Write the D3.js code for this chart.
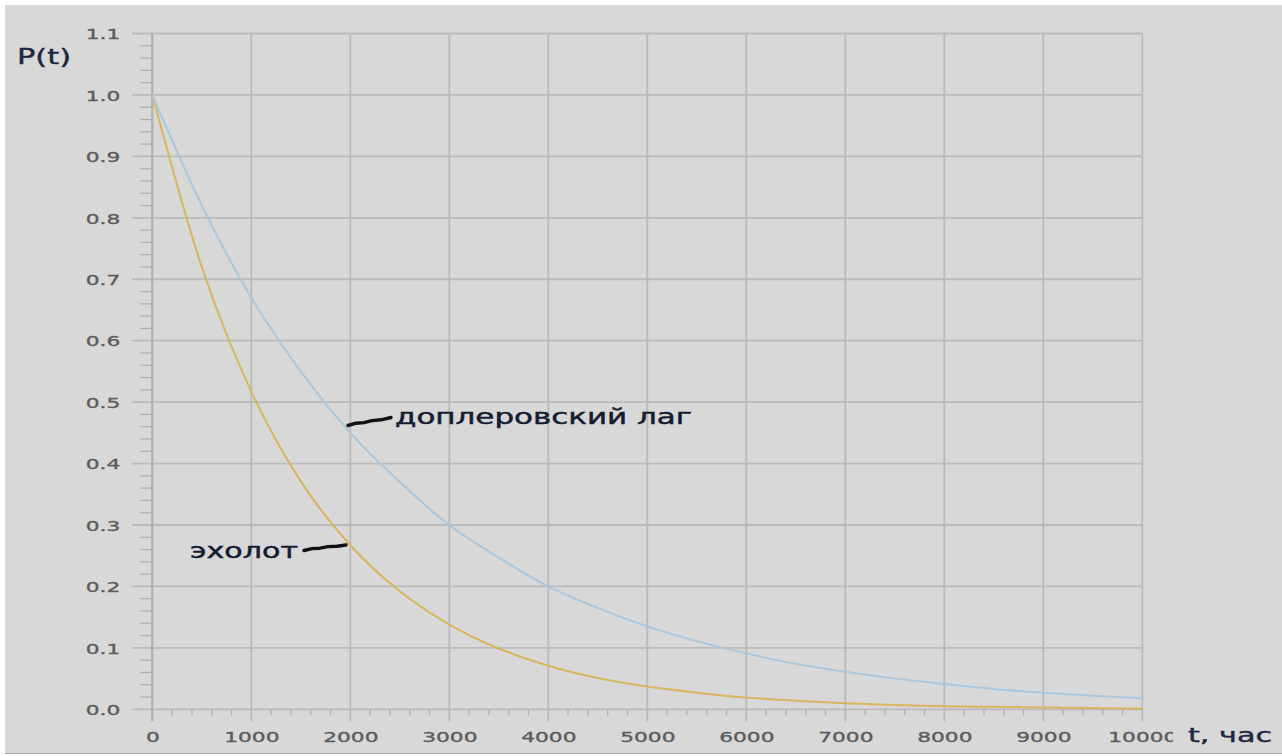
<!DOCTYPE html>
<html>
<head>
<meta charset="utf-8">
<script src="https://cdn.jsdelivr.net/npm/d3@7"></script>
<style>
  html, body { margin: 0; padding: 0; background: #ffffff; }
  svg { display: block; }
  text { font-family: "DejaVu Sans", Verdana, sans-serif; }
</style>
</head>
<body>
<svg id="chart" width="1282" height="756"></svg>
<script>
// Reliability P(t) over operating time, hours
const hours = [0, 500, 1000, 1500, 2000, 2500, 3000, 3500, 4000, 4500, 5000,
               5500, 6000, 6500, 7000, 7500, 8000, 8500, 9000, 9500, 10000];
const dopplerLog = [1.0, 0.82, 0.67, 0.55, 0.45, 0.37, 0.30, 0.247, 0.20, 0.165, 0.135,
                    0.111, 0.091, 0.074, 0.061, 0.050, 0.041, 0.033, 0.027, 0.022, 0.018];
const echoSounder = [1.0, 0.72, 0.517, 0.371, 0.267, 0.192, 0.138, 0.099, 0.071, 0.051, 0.037,
                     0.027, 0.019, 0.014, 0.010, 0.007, 0.005, 0.004, 0.003, 0.002, 0.001];
const xTicks = [0, 1000, 2000, 3000, 4000, 5000, 6000, 7000, 8000, 9000, 10000];
const yTicks = [0.0, 0.1, 0.2, 0.3, 0.4, 0.5, 0.6, 0.7, 0.8, 0.9, 1.0, 1.1];
const seriesNames = ["доплеровский лаг", "эхолот"];
const yTitle = "P(t)";
const xTitle = "t, час";

const svg = d3.select("#chart");
const W = 1282, H = 756;

// panel background
svg.append("rect").attr("x", 5).attr("y", 5).attr("width", W - 5).attr("height", 748)
  .attr("fill", "#d8d8d8");
svg.append("line").attr("x1", 5).attr("x2", W).attr("y1", 753.5).attr("y2", 753.5)
  .attr("stroke", "#a9a9a9").attr("stroke-width", 1.2);

const x = d3.scaleLinear().domain([0, 10000]).range([152.3, 1142.3]);
const y = d3.scaleLinear().domain([0, 1.1]).range([709.3, 33.5]);

const gridColor = "#bababa";
const sx = 1.5; // wide tick lettering

// horizontal grid + major y ticks (extend left of the axis)
svg.append("g").selectAll("line").data(yTicks).join("line")
  .attr("x1", 132).attr("x2", x(10000))
  .attr("y1", d => y(d)).attr("y2", d => y(d))
  .attr("stroke", gridColor).attr("stroke-width", 1.8);

// vertical grid
svg.append("g").selectAll("line").data(xTicks.slice(1)).join("line")
  .attr("x1", d => x(d)).attr("x2", d => x(d))
  .attr("y1", y(1.1)).attr("y2", y(0) + 12)
  .attr("stroke", gridColor).attr("stroke-width", 1.8);

// y axis line
svg.append("line").attr("x1", x(0)).attr("x2", x(0)).attr("y1", y(1.1)).attr("y2", y(0) + 12)
  .attr("stroke", "#b0b0b0").attr("stroke-width", 2.2);

// minor ticks
const yMinor = d3.range(0, 1.1001, 0.02).filter(v => Math.abs(v * 10 - Math.round(v * 10)) > 1e-6);
svg.append("g").selectAll("line").data(yMinor).join("line")
  .attr("x1", x(0) - 12).attr("x2", x(0))
  .attr("y1", d => y(d)).attr("y2", d => y(d))
  .attr("stroke", "#b0b0b0").attr("stroke-width", 1.3);
const xMinor = d3.range(0, 10001, 200).filter(v => v % 1000 !== 0);
svg.append("g").selectAll("line").data(xMinor).join("line")
  .attr("x1", d => x(d)).attr("x2", d => x(d))
  .attr("y1", y(0)).attr("y2", y(0) + 6)
  .attr("stroke", "#b0b0b0").attr("stroke-width", 1.3);

// tick labels via d3 axes, restyled
function styleTickText(sel) {
  sel.attr("transform", `scale(${sx},1)`)
    .attr("font-size", 14.5).attr("fill", "#5c5c5c")
    .attr("stroke", "#5c5c5c").attr("stroke-width", 0.35)
    .attr("font-family", "DejaVu Sans, Verdana, sans-serif");
}
const yAxis = svg.append("g").attr("transform", `translate(${x(0)},0)`)
  .call(d3.axisLeft(y).tickValues(yTicks).tickFormat(d3.format(".1f")).tickSize(0));
yAxis.select(".domain").remove();
yAxis.selectAll("text").attr("x", -32 / sx).attr("dy", "0.36em").call(styleTickText);

svg.append("clipPath").attr("id", "xlab-clip")
  .append("rect").attr("x", 0).attr("y", 0).attr("width", 1173).attr("height", H);
const xAxis = svg.append("g").attr("transform", `translate(0,${y(0)})`)
  .attr("clip-path", "url(#xlab-clip)")
  .call(d3.axisBottom(x).tickValues(xTicks).tickFormat(d3.format("d")).tickSize(0));
xAxis.select(".domain").remove();
xAxis.selectAll("text").attr("y", 33).attr("dy", 0).attr("x", 0).call(styleTickText);

// curves
const line = d3.line().x((d, i) => x(hours[i])).y(d => y(d)).curve(d3.curveMonotoneX);
svg.append("path").datum(echoSounder).attr("d", line)
  .attr("fill", "none").attr("stroke", "#d8b65e").attr("stroke-width", 2);
svg.append("path").datum(dopplerLog).attr("d", line)
  .attr("fill", "none").attr("stroke", "#aac7dc").attr("stroke-width", 2);

// axis titles
const titleColor = "#1d2740";
svg.append("text").text(yTitle).attr("x", 17).attr("y", 64)
  .attr("font-size", 22).attr("fill", titleColor)
  .attr("stroke", titleColor).attr("stroke-width", 0.4)
  .attr("textLength", 54).attr("lengthAdjust", "spacingAndGlyphs");
svg.append("text").text(xTitle).attr("x", 1188).attr("y", 742)
  .attr("font-size", 19.5).attr("fill", titleColor)
  .attr("stroke", titleColor).attr("stroke-width", 0.4)
  .attr("textLength", 84).attr("lengthAdjust", "spacingAndGlyphs");

// series labels with leader strokes
const leader = d3.line();
function labelSeries(name, tx, ty, len, pts) {
  svg.append("path").attr("d", leader(pts)).attr("fill", "none")
    .attr("stroke", "#111").attr("stroke-width", 3.4)
    .attr("stroke-linecap", "round").attr("stroke-linejoin", "round");
  svg.append("text").text(name).attr("x", tx).attr("y", ty)
    .attr("font-size", 21).attr("fill", "#141c30")
    .attr("stroke", "#141c30").attr("stroke-width", 0.45)
    .attr("textLength", len).attr("lengthAdjust", "spacingAndGlyphs");
}
labelSeries(seriesNames[0], 395, 423.5, 297,
  [[348, 425.5], [356, 423.2], [364, 422.6], [372, 420.6], [381, 419.8], [391, 417.5]]);
labelSeries(seriesNames[1], 190, 557.5, 108,
  [[304, 550.5], [312, 548.6], [320, 548.2], [328, 546.6], [337, 546.2], [346, 545]]);
</script>
</body>
</html>
